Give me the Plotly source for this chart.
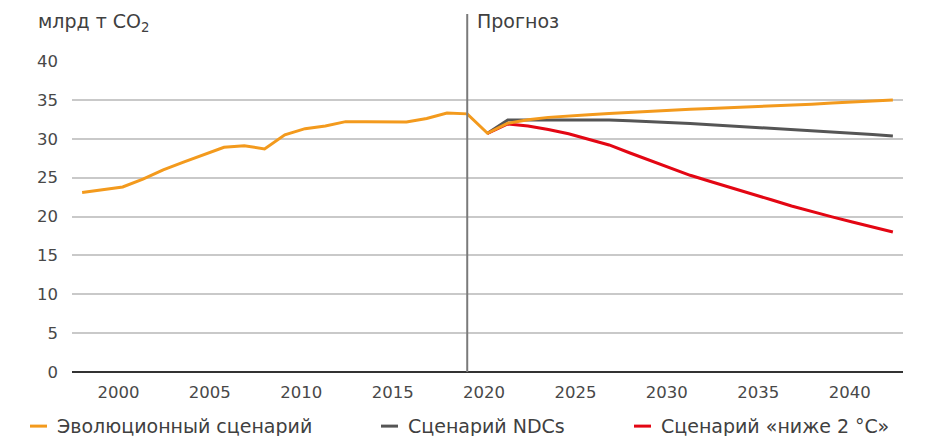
"""
Global CO2 emissions: history and three scenarios to 2040.
"""
import plotly.graph_objects as go

years = list(range(2000, 2041))

evolution = [
    23.1, 23.45, 23.8, 24.8, 26.0, 27.0, 27.9, 28.9, 29.1, 28.7,
    30.5, 31.3, 31.65, 32.2, 32.2, 32.2, 32.15, 32.6, 33.3, 33.2,
    30.7, 32.0, 32.45, 32.75, 32.95, 33.1, 33.25, 33.4, 33.55, 33.7,
    33.8, 33.9, 34.0, 34.1, 34.25, 34.35, 34.45, 34.6, 34.7, 34.85, 35.0,
]
scenario_years = list(range(2020, 2041))
ndc = [
    30.7, 32.4, 32.4, 32.4, 32.4, 32.4, 32.4, 32.3, 32.2, 32.1,
    31.95, 31.8, 31.65, 31.5, 31.35, 31.2, 31.05, 30.9, 30.75, 30.55, 30.35,
]
below2 = [
    30.7, 31.9, 31.65, 31.2, 30.65, 29.95, 29.2, 28.2, 27.2, 26.2,
    25.3, 24.5, 23.75, 22.95, 22.15, 21.35, 20.6, 19.95, 19.3, 18.65, 18.0,
]

tick_labels = ["2000", "2005", "2010", "2015", "2020", "2025", "2030", "2035", "2040"]
y_ticks = [0, 5, 10, 15, 20, 25, 30, 35, 40]
forecast_start = 2019

names = ["Эволюционный сценарий", "Сценарий NDCs", "Сценарий «ниже 2 °C»"]
colors = ["#F39A1D", "#555555", "#E30613"]

FONT = "DejaVu Sans"
TEXT = "#404040"

fig = go.Figure()
fig.add_trace(go.Scatter(x=scenario_years, y=ndc, mode="lines",
                         line=dict(color=colors[1], width=3), name=names[1]))
fig.add_trace(go.Scatter(x=scenario_years, y=below2, mode="lines",
                         line=dict(color=colors[2], width=3), name=names[2]))
fig.add_trace(go.Scatter(x=years, y=evolution, mode="lines",
                         line=dict(color=colors[0], width=3), name=names[0]))

# x labels are spread evenly under the plot, as in the source layout
tickvals = [2001.79 + 4.51 * i for i in range(len(tick_labels))]

# page body has an 8px margin, so the figure is 8px smaller than the window
fig.update_layout(
    width=923,
    height=428,
    autosize=False,
    margin=dict(l=64, r=28, t=53, b=64),
    paper_bgcolor="white",
    plot_bgcolor="white",
    showlegend=False,
    font=dict(family=FONT, color=TEXT, size=16),
    xaxis=dict(
        range=[1999.5, 2040.5],
        tickvals=tickvals,
        ticktext=tick_labels,
        showgrid=False,
        zeroline=False,
        showline=False,
        ticks="",
        ticklabelstandoff=8,
        tickfont=dict(family=FONT, size=16.5, color="#484848"),
    ),
    yaxis=dict(
        range=[0, 40],
        tickvals=y_ticks,
        showgrid=True,
        gridcolor="#c9c9c9",
        gridwidth=1.5,
        zeroline=True,
        zerolinecolor="#333333",
        zerolinewidth=2,
        showline=False,
        ticks="",
        ticklabelstandoff=13,
        tickfont=dict(family=FONT, size=16.5, color="#484848"),
    ),
)

# forecast divider
fig.add_shape(type="line", xref="x", yref="paper", x0=forecast_start, x1=forecast_start,
              y0=0, y1=1.151, line=dict(color="#7a7a7a", width=2))
fig.add_annotation(text="Прогноз", xref="x", yref="paper", x=forecast_start, y=1.17,
                   xanchor="left", yanchor="top", xshift=8, showarrow=False,
                   font=dict(family=FONT, size=19, color=TEXT))
fig.add_annotation(text="млрд т CO<sub>2</sub>", xref="paper", yref="paper", x=-0.043, y=1.17,
                   xanchor="left", yanchor="top", showarrow=False,
                   font=dict(family=FONT, size=19, color=TEXT))

# legend drawn by hand: short thick dash + label
legend_x = [30, 381, 634]
for name, color, lx in zip(names, colors, legend_x):
    px0 = (lx - 72) / 831
    px1 = (lx + 17 - 72) / 831
    fig.add_shape(type="line", xref="paper", yref="paper", x0=px0, x1=px1,
                  y0=-0.174, y1=-0.174, line=dict(color=color, width=3))
    fig.add_annotation(text=name, xref="paper", yref="paper", x=(lx + 25 - 72) / 831,
                       y=-0.174, xanchor="left", yanchor="middle", showarrow=False,
                       font=dict(family=FONT, size=19, color=TEXT))

fig.write_html("out.html")
